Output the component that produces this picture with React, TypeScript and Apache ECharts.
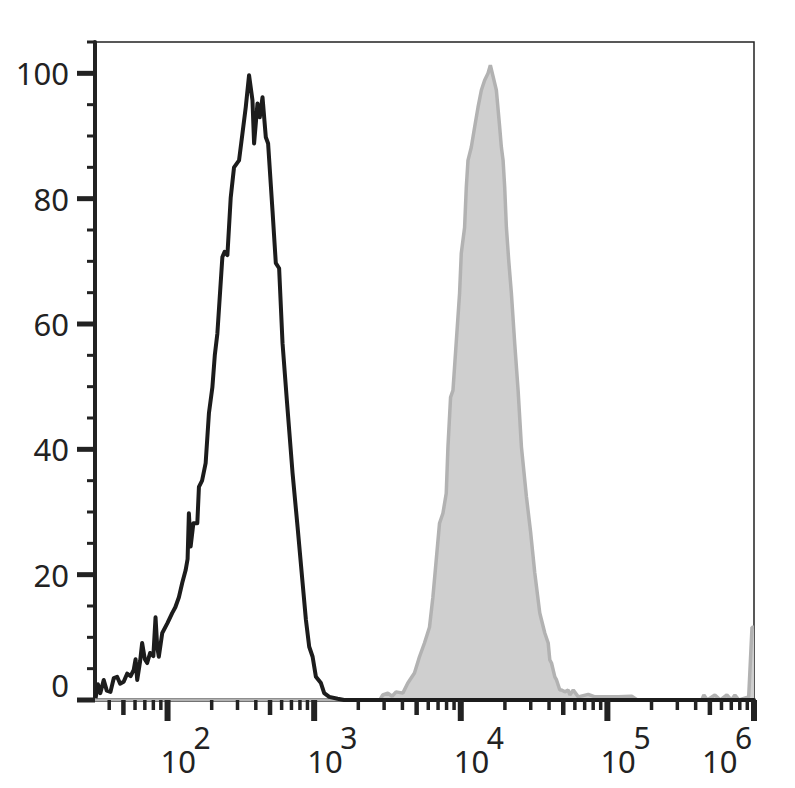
import React, { useEffect, useRef } from "react";
import * as echarts from "echarts";

// Unstained control (black outline): [fluorescence, % of max]
const controlSeries: [number, number][] = [
  [32.3, 0.3], [33.5, 2.5], [34.8, 1.1], [36.7, 3.2], [38.5, 1.5], [40.8, 1.3],
  [43, 3.5], [45.3, 3.7], [47.5, 2.6], [50.2, 2.9], [53, 4.2], [56, 3.8],
  [58.8, 4.8], [60.5, 6.5], [62.1, 3.2], [65, 6.2], [67.1, 9.1], [70, 6.5],
  [72.6, 5.9], [76, 7.5], [80, 7.0], [82.8, 13.2], [85, 8.5], [87.2, 6.9],
  [92, 10.7], [100, 12.3], [107.7, 13.9], [113, 14.8], [119.5, 16.4], [126, 18.7],
  [132.8, 20.7], [137, 22.5], [139.8, 29.8], [143.7, 24.5], [150, 28.2], [159.6, 28.2],
  [163.7, 34.0], [172, 35.0], [181.9, 37.8], [191.6, 45.8], [202.2, 49.9], [210, 55.0],
  [218.7, 58.5], [236.6, 70.7], [245, 71.5], [256, 71.0], [269.7, 80.2], [284.1, 85.0],
  [307.3, 86.1], [324.2, 90.4], [341.5, 94.6], [359.7, 99.7], [379.5, 95.7], [389.2, 88.8],
  [410.6, 95.2], [425.8, 93.0], [444.3, 96.2], [468, 89.8], [485.2, 88.8], [519.8, 78.1],
  [547.6, 69.7], [576.8, 68.9], [608.6, 56.9], [651.3, 47.8], [712.3, 36.2], [770.7, 27.6],
  [833.7, 18.7], [878.3, 12.8], [925, 8.5], [975.9, 6.9], [1028, 3.7], [1112, 2.7],
  [1171, 1.1], [1267, 0.5], [1446, 0.2], [1600, 0], [1000000, 0],
];

// Stained sample (grey filled): [fluorescence, % of max]
const stainedSeries: [number, number][] = [
  [32, 0], [2800, 0], [2938, 0.8], [3179, 1.1], [3400, 0.6], [3622, 1.3],
  [4025, 1.1], [4355, 2.7], [4833, 4.3], [5228, 6.9], [5655, 9.1], [6117, 11.6],
  [6453, 16.4], [6799, 22.3], [7162, 28.2], [7556, 29.8], [7960, 33.0], [8176, 40.4],
  [8518, 48.3], [8846, 49.4], [9813, 64.9], [10079, 71.3], [10617, 75.4], [10905, 81.8],
  [11200, 86.1], [11796, 88.2], [12428, 91.4], [13112, 94.6], [13812, 97.3], [14546, 98.9],
  [15346, 100], [15912, 101.3], [16605, 99.5], [17489, 97.3], [18423, 91.4], [18921, 88.2],
  [19434, 86.1], [19932, 81.8], [20472, 75.4], [21224, 70.2], [22145, 64.9], [23327, 56.9],
  [24607, 49.4], [25922, 40.4], [28050, 32.4], [30010, 26.6], [31957, 20.3], [34567, 13.9],
  [35504, 12.8], [37411, 10.7], [39467, 9.1], [40480, 6.4], [41576, 5.9], [43796, 3.7],
  [44983, 3.2], [47383, 1.6], [48668, 1.6], [51256, 1.3], [54075, 1.6], [55450, 0.8],
  [58507, 1.6], [63300, 0.5], [74070, 0.9], [82220, 0.5], [118850, 0.5], [146550, 0.6],
  [160000, 0], [440000, 0], [455000, 0.8], [480000, 0], [541000, 0.8], [590000, 0],
  [653000, 0.8], [700000, 0], [741000, 0.8], [790000, 0], [920000, 0.5], [969000, 11.6],
  [1000000, 11.6],
];

// Axis ticks and tick labels (x: powers of ten)
const xMajorTicks = [100, 1000, 10000, 100000, 1000000];
const xMajorExponents = ["2", "3", "4", "5", "6"];
const xMidTicks = [50, 500, 5000, 50000, 500000];
const xMinorTicks = [
  40, 60, 70, 80, 90,
  200, 300, 400, 600, 700, 800, 900,
  2000, 3000, 4000, 6000, 7000, 8000, 9000,
  20000, 30000, 40000, 60000, 70000, 80000, 90000,
  200000, 300000, 400000, 600000, 700000, 800000, 900000,
];
const yMajorTicks = [0, 20, 40, 60, 80, 100];
const yMinorTicks = [5, 10, 15, 25, 30, 35, 45, 50, 55, 65, 70, 75, 85, 90, 95, 105];

const X_MIN = 32;
const X_MAX = 1000000;
const Y_MIN = 0;
const Y_MAX = 105;

const INK = "#222222";
const FONT = "Noto Sans";
const FS = 31;

export default function App() {
  const ref = useRef<HTMLDivElement>(null);

  useEffect(() => {
    if (!ref.current) return;
    const chart = echarts.init(ref.current, null, { renderer: "svg" });

    const xTickData = [
      ...xMajorTicks.map((v) => [v, 0, 2]),
      ...xMidTicks.map((v) => [v, 0, 1]),
      ...xMinorTicks.map((v) => [v, 0, 0]),
    ];
    const yTickData = [
      ...yMajorTicks.map((v) => [X_MIN, v, 2]),
      ...yMinorTicks.map((v) => [X_MIN, v, 0]),
    ];
    const xLabelData = xMajorTicks.map((v, i) => ({ value: [v, 0], exp: xMajorExponents[i] }));

    const option: any = {
      animation: false,
      backgroundColor: "#ffffff",
      grid: {
        left: 95,
        top: 42,
        width: 659,
        height: 658,
        show: true,
        borderColor: INK,
        borderWidth: 1.5,
        backgroundColor: "transparent",
      },
      xAxis: {
        type: "log",
        logBase: 10,
        min: X_MIN,
        max: X_MAX,
        axisLine: { show: true, lineStyle: { color: INK, width: 4 } },
        axisTick: { show: false },
        splitLine: { show: false },
        minorTick: { show: false },
        axisLabel: { show: false },
      },
      yAxis: {
        type: "value",
        min: Y_MIN,
        max: Y_MAX,
        interval: 20,
        axisLine: { show: true, lineStyle: { color: INK, width: 4 } },
        axisTick: { show: false },
        splitLine: { show: false },
        axisLabel: {
          show: true,
          margin: 26,
          fontSize: FS,
          fontFamily: FONT,
          color: INK,
          showMaxLabel: false,
          verticalAlignMinLabel: "bottom",
          formatter: (v: number) => (v % 20 === 0 ? String(v) : ""),
        },
      },
      series: [
        {
          name: "Stained",
          type: "line",
          data: stainedSeries,
          showSymbol: false,
          symbol: "none",
          z: 2,
          lineStyle: { color: "#b2b2b2", width: 3.5 },
          areaStyle: { color: "#cfcfcf", opacity: 1, origin: "start" },
        },
        {
          name: "Control",
          type: "line",
          data: controlSeries,
          showSymbol: false,
          symbol: "none",
          z: 3,
          lineStyle: { color: "#1c1c1c", width: 4, join: "round" },
        },
        {
          name: "xticks",
          type: "custom",
          coordinateSystem: "cartesian2d",
          clip: false,
          silent: true,
          z: 5,
          data: xTickData,
          renderItem: (_params: any, api: any) => {
            const v = api.value(0);
            const kind = api.value(2);
            const p = api.coord([v, Y_MIN]);
            const len = kind === 2 ? 21 : kind === 1 ? 15 : 10;
            const w = kind === 2 ? 6 : kind === 1 ? 4.5 : 3.5;
            return {
              type: "rect",
              shape: { x: p[0] - w / 2, y: p[1], width: w, height: len },
              style: { fill: INK },
            };
          },
        },
        {
          name: "yticks",
          type: "custom",
          coordinateSystem: "cartesian2d",
          clip: false,
          silent: true,
          z: 5,
          data: yTickData,
          renderItem: (_params: any, api: any) => {
            const v = api.value(1);
            const kind = api.value(2);
            const p = api.coord([X_MIN, v]);
            const len = kind === 2 ? 18 : 8;
            const w = kind === 2 ? 5 : 3;
            return {
              type: "rect",
              shape: { x: p[0] - len, y: p[1] - w / 2, width: len, height: w },
              style: { fill: INK },
            };
          },
        },
        {
          name: "xlabels",
          type: "custom",
          coordinateSystem: "cartesian2d",
          clip: false,
          silent: true,
          z: 6,
          data: xLabelData,
          renderItem: (params: any, api: any) => {
            const v = api.value(0);
            const p = api.coord([v, Y_MIN]);
            const exp = xLabelData[params.dataIndex].exp;
            const shift = v >= X_MAX ? -45 : 0;
            const x0 = p[0] + shift;
            return {
              type: "group",
              children: [
                {
                  type: "text",
                  x: x0 - 7,
                  y: p[1] + 61,
                  style: {
                    text: "10",
                    fill: INK,
                    fontSize: FS,
                    fontFamily: FONT,
                    align: "left",
                    verticalAlign: "middle",
                  },
                },
                {
                  type: "text",
                  x: x0 + 26,
                  y: p[1] + 37,
                  style: {
                    text: exp,
                    fill: INK,
                    fontSize: FS - 1,
                    fontFamily: FONT,
                    align: "left",
                    verticalAlign: "middle",
                  },
                },
              ],
            };
          },
        },
      ],
    };

    chart.setOption(option);
    return () => chart.dispose();
  }, []);

  return (
    <div
      ref={ref}
      style={{ position: "fixed", left: 0, top: 0, width: 795, height: 788, background: "#fff" }}
    />
  );
}
